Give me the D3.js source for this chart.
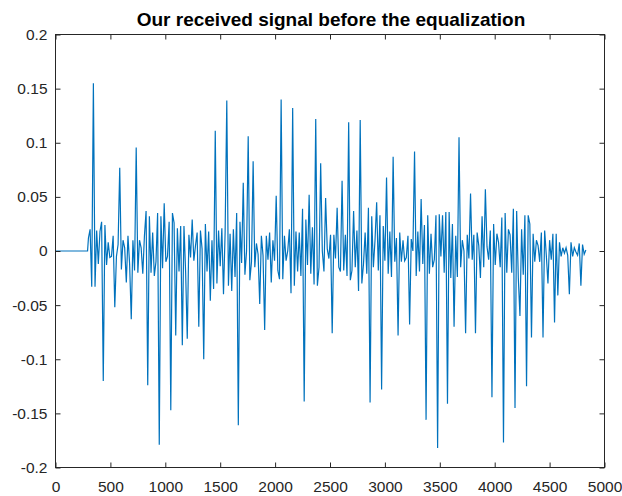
<!DOCTYPE html>
<html>
<head>
<meta charset="utf-8">
<script src="https://cdn.jsdelivr.net/npm/d3@7"></script>
<style>
  html, body { margin: 0; padding: 0; background: #fff; }
  svg text { font-family: "Liberation Sans", Arial, Helvetica, sans-serif; fill: #262626; }
</style>
</head>
<body>
<svg id="chart" width="622" height="496"></svg>
<script>
// ---- data ----
const titleText = "Our received signal before the equalization";
const xTicks = [0, 500, 1000, 1500, 2000, 2500, 3000, 3500, 4000, 4500, 5000];
const xTickLabels = ["0", "500", "1000", "1500", "2000", "2500", "3000", "3500", "4000", "4500", "5000"];
const yTicks = [0.2, 0.15, 0.1, 0.05, 0, -0.05, -0.1, -0.15, -0.2];
const yTickLabels = ["0.2", "0.15", "0.1", "0.05", "0", "-0.05", "-0.1", "-0.15", "-0.2"];
// silent part before the signal starts (sample index, value)
const leadSamples = [0, 292];
const leadValues = [0, 0];
// received samples, one every `signalStep` samples from `signalStart`
const signalStart = 300;
const signalStep = 15;
const signalValues = [
  0.012, 0.02, -0.033, 0.155, -0.033, 0.019, -0.012, 0.018, 0.027, -0.12,
  0.024, -0.013, 0.008, -0.006, -0.005, 0.014, -0.052, -0.005, 0.006, 0.077,
  -0.017, 0.01, 0.003, -0.029, 0.014, -0.012, -0.063, 0.01, -0.018, 0.0955,
  -0.02, 0.01, 0.003, -0.021, 0.014, 0.037, -0.124, 0.032, -0.02, 0.017,
  -0.023, -0.01, 0.035, -0.179, 0.032, -0.016, 0.044, -0.01, -0.005, 0.027,
  -0.147, 0.035, 0.026, -0.078, 0.021, -0.019, 0.023, -0.087, 0.023, -0.019,
  -0.081, 0.015, -0.006, 0.029, -0.009, 0.005, 0.017, -0.07, 0.019, 0.002,
  -0.1, 0.025, -0.019, 0.018, -0.046, 0.01, -0.035, 0.111, -0.03, 0.019,
  -0.014, 0.021, -0.04, 0.018, 0.139, -0.032, 0.016, -0.037, 0.02, -0.024,
  0.035, -0.161, 0.027, -0.011, 0.063, -0.022, 0.0, 0.106, -0.027, -0.01,
  0.083, -0.015, 0.007, -0.003, -0.049, 0.014, -0.004, -0.073, 0.014, -0.008,
  0.017, -0.029, 0.01, -0.009, 0.051, -0.018, -0.026, 0.14, -0.026, 0.014,
  -0.009, 0.0, 0.02, -0.039, 0.132, -0.032, 0.018, -0.019, 0.017, -0.023,
  0.039, -0.139, 0.029, -0.013, 0.052, -0.021, 0.022, -0.031, 0.122, -0.032,
  -0.015, 0.081, 0.0, -0.019, 0.049, 0.002, -0.007, 0.015, -0.076, 0.015,
  -0.007, 0.04, -0.015, -0.019, 0.065, -0.018, 0.015, -0.023, 0.119, -0.027,
  -0.018, 0.037, -0.015, 0.019, -0.037, 0.121, -0.03, -0.012, 0.017, -0.021,
  0.04, -0.14, 0.032, -0.015, 0.01, 0.045, -0.018, 0.033, -0.128, 0.023,
  -0.009, 0.068, -0.021, 0.018, -0.024, 0.087, -0.01, 0.012, -0.078, 0.017,
  -0.01, 0.01, -0.009, -0.006, 0.014, -0.068, 0.011, 0.0, 0.092, -0.023,
  0.018, -0.019, 0.048, -0.012, 0.024, -0.156, 0.033, -0.021, 0.016, -0.015,
  -0.008, 0.033, -0.182, 0.034, -0.005, 0.033, -0.02, 0.036, -0.141, 0.036,
  -0.025, 0.025, -0.07, 0.014, -0.024, 0.105, -0.015, 0.01, 0.0, -0.076,
  0.015, -0.007, 0.053, -0.008, 0.015, -0.076, 0.017, 0.005, -0.025, 0.032,
  -0.015, 0.057, 0.004, -0.008, 0.019, -0.135, 0.025, -0.013, 0.016, 0.008,
  -0.015, 0.031, -0.177, 0.035, -0.02, 0.02, 0.015, -0.02, 0.039, -0.145,
  0.037, -0.025, -0.06, 0.02, -0.022, 0.033, -0.125, 0.033, 0.025, -0.08,
  0.016, -0.01, 0.01, 0.005, -0.01, 0.017, -0.08, 0.019, -0.004, -0.03,
  0.01, -0.008, 0.016, -0.066, 0.016, -0.041, 0.008, -0.005, 0.003, -0.002,
  0.003, -0.004, -0.04, 0.008, -0.005, 0.003, -0.001, -0.004, 0.007, -0.032,
  0.006, -0.003, 0.001
];

// ---- build points ----
const points = leadSamples.map((s, i) => ({ x: s, y: leadValues[i] }))
  .concat(signalValues.map((v, i) => ({ x: signalStart + i * signalStep, y: v })));

// ---- layout ----
const plot = { left: 55.5, right: 604.5, top: 34.5, bottom: 467.5 };
const axisColor = "#262626";
const lineColor = "#0072BD";
const tickFont = "15.5px";

const svg = d3.select("#chart");
const x = d3.scaleLinear().domain([0, 5000]).range([plot.left, plot.right]);
const y = d3.scaleLinear().domain([-0.2, 0.2]).range([plot.bottom, plot.top]);

svg.append("defs").append("clipPath").attr("id", "clip")
  .append("rect").attr("x", plot.left).attr("y", plot.top)
  .attr("width", plot.right - plot.left).attr("height", plot.bottom - plot.top);

const line = d3.line().x(d => x(d.x)).y(d => y(d.y));
svg.append("path").datum(points)
  .attr("clip-path", "url(#clip)")
  .attr("fill", "none")
  .attr("stroke", lineColor)
  .attr("stroke-width", 1.2)
  .attr("stroke-linejoin", "miter")
  .attr("d", line);

function styleAxis(g, showText) {
  g.select(".domain").remove();
  g.selectAll(".tick line").attr("stroke", axisColor).attr("stroke-width", 1);
  g.selectAll(".tick text").attr("fill", axisColor).style("font-size", tickFont);
  if (!showText) g.selectAll(".tick text").remove();
}
const tickLen = 5;
svg.append("g").attr("transform", `translate(0,${plot.bottom})`)
  .call(d3.axisBottom(x).tickValues(xTicks).tickSize(-tickLen).tickPadding(13.5)
    .tickFormat((d, i) => xTickLabels[i]))
  .call(g => styleAxis(g, true));
svg.append("g").attr("transform", `translate(0,${plot.top})`)
  .call(d3.axisTop(x).tickValues(xTicks).tickSize(-tickLen))
  .call(g => styleAxis(g, false));
svg.append("g").attr("transform", `translate(${plot.left},0)`)
  .call(d3.axisLeft(y).tickValues(yTicks).tickSize(-tickLen).tickPadding(8)
    .tickFormat((d, i) => yTickLabels[i]))
  .call(g => styleAxis(g, true));
svg.append("g").attr("transform", `translate(${plot.right},0)`)
  .call(d3.axisRight(y).tickValues(yTicks).tickSize(-tickLen))
  .call(g => styleAxis(g, false));

svg.append("rect")
  .attr("x", plot.left).attr("y", plot.top)
  .attr("width", plot.right - plot.left).attr("height", plot.bottom - plot.top)
  .attr("fill", "none").attr("stroke", axisColor).attr("stroke-width", 1);

svg.append("text")
  .attr("x", (plot.left + plot.right) / 2 + 1)
  .attr("y", 26)
  .attr("text-anchor", "middle")
  .style("font-size", "19px")
  .style("font-weight", "bold")
  .style("fill", "#000")
  .text(titleText);
</script>
</body>
</html>
